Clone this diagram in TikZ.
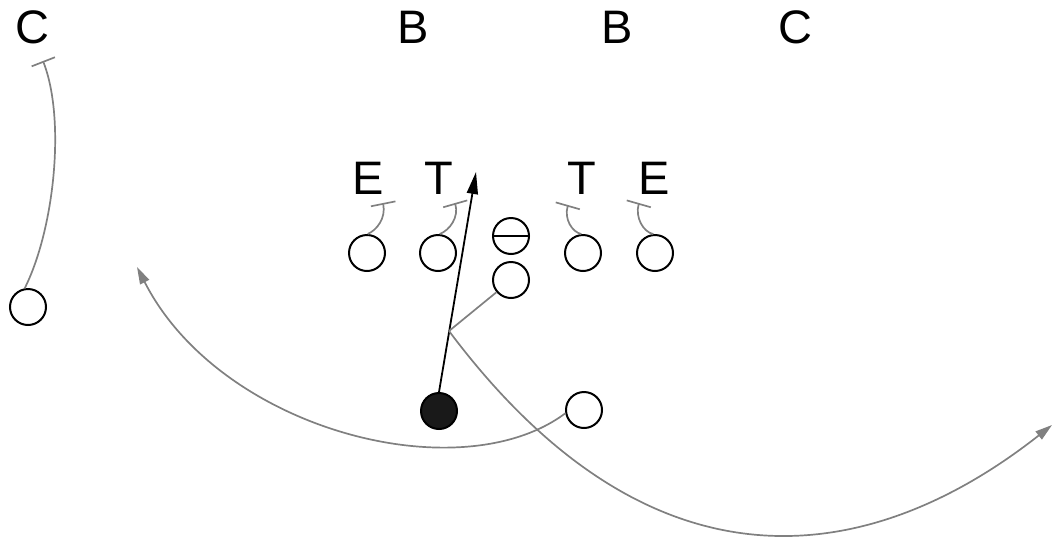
\documentclass[tikz,border=0pt]{standalone}
\usepackage{fontspec}
\setmainfont{Liberation Sans}
\usetikzlibrary{arrows.meta}
\begin{document}
\begin{tikzpicture}[x=1pt,y=-1pt,
  player/.style={circle,draw=black,line width=2pt,minimum size=36pt,inner sep=0pt},
  ballcarrier/.style={player,fill=black!90},
  letter/.style={inner sep=0pt,font=\fontsize{47}{47}\selectfont},
  blockline/.style={draw=black!50,line width=1.7pt,-{Bar[width=25pt,line width=1.7pt]}},
  route/.style={draw=black!50,line width=1.7pt,-{Triangle[length=17pt,width=10pt]}},
  runpath/.style={draw=black,line width=1.8pt,-{Triangle[length=22pt,width=11pt]}}]
\useasboundingbox (0,0) rectangle (1054,539);

% defenders
\node[letter] (c1) at (32.5,27) {C};
\node[letter] (b1) at (413,27) {B};
\node[letter] (b2) at (617,27) {B};
\node[letter] (c2) at (795,27) {C};
\node[letter] (e1) at (368,178) {E};
\node[letter] (t1) at (439,178) {T};
\node[letter] (t2) at (582,178) {T};
\node[letter] (e2) at (654,178) {E};

% offense
\node[player] (le) at (367,253) {};
\node[player] (lt) at (438,253) {};
\node[player] (rt) at (583,253) {};
\node[player] (re) at (655,253) {};
\node[player] (qc) at (511,236) {};
\draw[line width=2pt] (qc.west) -- (qc.east);
\node[player] (fb) at (511,280) {};
\node[player] (wr) at (28,307) {};
\node[player] (hb) at (584,410) {};
\node[ballcarrier] (rb) at (439,411) {};

% block ends
\coordinate (bwr) at (43,61);
\coordinate (ble) at (383,203);
\coordinate (blt) at (455,203);
\coordinate (brt) at (568,205);
\coordinate (bre) at (639,203);

% blocks
\draw[blockline] (wr.100) .. controls (54,230) and (66,120) .. (bwr);
\draw[blockline] (le.88) .. controls (377,230) and (386,218) .. (ble);
\draw[blockline] (lt.85) .. controls (450,230) and (459,217) .. (blt);
\draw[blockline] (rt.95) .. controls (572,232) and (564,219) .. (brt);
\draw[blockline] (re.95) .. controls (643,232) and (635,217) .. (bre);

% ball carrier's run
\coordinate (runend) at (476,172);
\draw[runpath] (rb.north) -- (runend);

% fullback lead and sweep
\coordinate (cut) at (449,331);
\coordinate (sweepend) at (1052,425);
\draw[draw=black!50,line width=1.7pt] (fb.220) -- (cut);
\draw[route] (cut) .. controls (658,610) and (878,562) .. (sweepend);

% halfback reverse
\coordinate (revend) at (137,267);
\draw[route] (hb.190) .. controls (460,492) and (220,430) .. (revend);
\end{tikzpicture}
\end{document}
